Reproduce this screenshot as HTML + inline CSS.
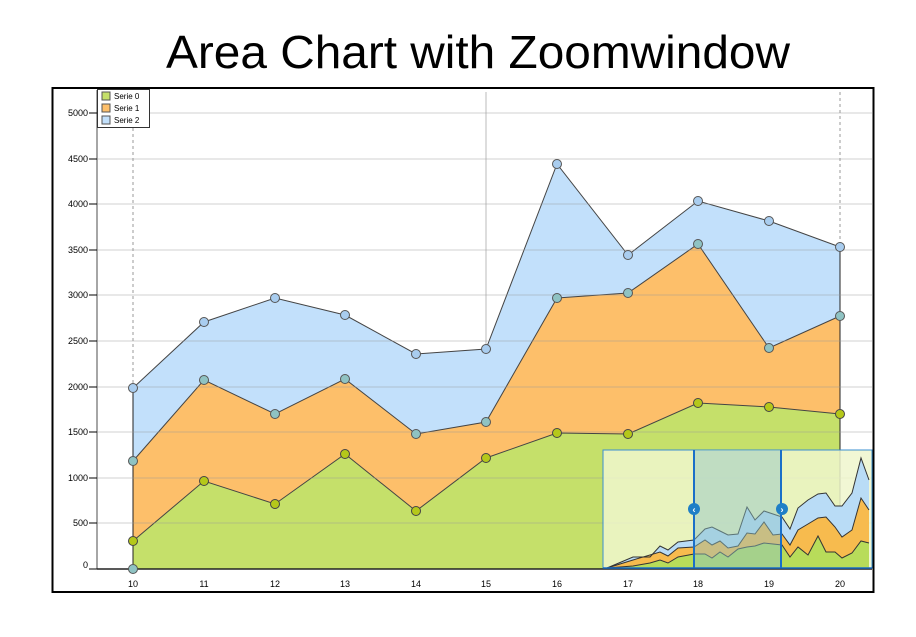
<!DOCTYPE html>
<html><head><meta charset="utf-8"><style>
html,body{margin:0;padding:0;background:#fff;width:916px;height:637px;overflow:hidden}
svg{display:block;font-family:"Liberation Sans",sans-serif}
</style></head><body>
<svg width="916" height="637" viewBox="0 0 916 637" xmlns="http://www.w3.org/2000/svg">
<text x="478" y="68" font-size="46" text-anchor="middle" textLength="624" lengthAdjust="spacingAndGlyphs" fill="#000">Area Chart with Zoomwindow</text>
<!-- frame -->
<rect x="52.5" y="88" width="821" height="504" fill="#fff" stroke="#000" stroke-width="2"/>
<!-- vertical grid -->
<line x1="133" y1="92" x2="133" y2="569" stroke="#999" stroke-dasharray="3,3"/>
<line x1="486" y1="92" x2="486" y2="569" stroke="#bbb"/>
<line x1="840" y1="92" x2="840" y2="569" stroke="#999" stroke-dasharray="3,3"/>
<!-- areas -->
<polygon fill="#c2e0fb" points="133,569 133,388 204,322 275,298 345,315 416,354 486,349 557,164 628,255 698,201 769,221 840,247 840,569"/>
<polygon fill="#fdbf6a" points="133,569 133,461 204,380 275,414 345,379 416,434 486,422 557,298 628,293 698,244 769,348 840,316 840,569"/>
<polygon fill="#c5e06a" points="133,569 133,541 204,481 275,504 345,454 416,511 486,458 557,433 628,434 698,403 769,407 840,414 840,569"/>
<g fill="none" stroke="#444" stroke-width="1">
<polyline points="133,388 204,322 275,298 345,315 416,354 486,349 557,164 628,255 698,201 769,221 840,247"/>
<polyline points="133,461 204,380 275,414 345,379 416,434 486,422 557,298 628,293 698,244 769,348 840,316"/>
<polyline points="133,541 204,481 275,504 345,454 416,511 486,458 557,433 628,434 698,403 769,407 840,414"/>
<line x1="133" y1="388" x2="133" y2="569" stroke="#222"/>
<line x1="840" y1="247" x2="840" y2="569" stroke="#222"/>
</g>
<!-- horizontal grid -->
<g stroke="#999" stroke-opacity="0.45">
<line x1="97" y1="113" x2="872" y2="113"/><line x1="97" y1="159" x2="872" y2="159"/>
<line x1="97" y1="204" x2="872" y2="204"/><line x1="97" y1="250" x2="872" y2="250"/>
<line x1="97" y1="295" x2="872" y2="295"/><line x1="97" y1="341" x2="872" y2="341"/>
<line x1="97" y1="387" x2="872" y2="387"/><line x1="97" y1="432" x2="872" y2="432"/>
<line x1="97" y1="478" x2="872" y2="478"/><line x1="97" y1="523" x2="872" y2="523"/>
</g>
<!-- axes -->
<line x1="97" y1="90" x2="97" y2="569" stroke="#888" stroke-width="1.5"/>
<line x1="97" y1="569" x2="872" y2="569" stroke="#222" stroke-width="1.5"/>
<g font-size="9" fill="#000" text-anchor="end">
<text x="88" y="116">5000</text><text x="88" y="162">4500</text><text x="88" y="207">4000</text>
<text x="88" y="253">3500</text><text x="88" y="298">3000</text><text x="88" y="344">2500</text>
<text x="88" y="390">2000</text><text x="88" y="435">1500</text><text x="88" y="481">1000</text>
<text x="88" y="526">500</text><text x="88" y="568">0</text>
</g>
<g stroke="#000"><line x1="89" y1="113" x2="97" y2="113"/><line x1="89" y1="159" x2="97" y2="159"/><line x1="89" y1="204" x2="97" y2="204"/><line x1="89" y1="250" x2="97" y2="250"/><line x1="89" y1="295" x2="97" y2="295"/><line x1="89" y1="341" x2="97" y2="341"/><line x1="89" y1="387" x2="97" y2="387"/><line x1="89" y1="432" x2="97" y2="432"/><line x1="89" y1="478" x2="97" y2="478"/><line x1="89" y1="523" x2="97" y2="523"/><line x1="89" y1="569" x2="97" y2="569"/></g>
<g font-size="9" fill="#000" text-anchor="middle">
<text x="133" y="587">10</text><text x="204" y="587">11</text><text x="275" y="587">12</text><text x="345" y="587">13</text><text x="416" y="587">14</text><text x="486" y="587">15</text><text x="557" y="587">16</text><text x="628" y="587">17</text><text x="698" y="587">18</text><text x="769" y="587">19</text><text x="840" y="587">20</text>
</g>
<!-- markers -->
<g stroke="#555" stroke-width="1" fill="#a9cdef">
<circle cx="133" cy="388" r="4.5"/><circle cx="204" cy="322" r="4.5"/><circle cx="275" cy="298" r="4.5"/><circle cx="345" cy="315" r="4.5"/><circle cx="416" cy="354" r="4.5"/><circle cx="486" cy="349" r="4.5"/><circle cx="557" cy="164" r="4.5"/><circle cx="628" cy="255" r="4.5"/><circle cx="698" cy="201" r="4.5"/><circle cx="769" cy="221" r="4.5"/><circle cx="840" cy="247" r="4.5"/>
</g>
<g stroke="#555" stroke-width="1" fill="#8fc3c3">
<circle cx="133" cy="461" r="4.5"/><circle cx="204" cy="380" r="4.5"/><circle cx="275" cy="414" r="4.5"/><circle cx="345" cy="379" r="4.5"/><circle cx="416" cy="434" r="4.5"/><circle cx="486" cy="422" r="4.5"/><circle cx="557" cy="298" r="4.5"/><circle cx="628" cy="293" r="4.5"/><circle cx="698" cy="244" r="4.5"/><circle cx="769" cy="348" r="4.5"/><circle cx="840" cy="316" r="4.5"/>
<circle cx="133" cy="569" r="4.5"/>
</g>
<g stroke="#444" stroke-width="1" fill="#b5c81a">
<circle cx="133" cy="541" r="4.5"/><circle cx="204" cy="481" r="4.5"/><circle cx="275" cy="504" r="4.5"/><circle cx="345" cy="454" r="4.5"/><circle cx="416" cy="511" r="4.5"/><circle cx="486" cy="458" r="4.5"/><circle cx="557" cy="433" r="4.5"/><circle cx="628" cy="434" r="4.5"/><circle cx="698" cy="403" r="4.5"/><circle cx="769" cy="407" r="4.5"/><circle cx="840" cy="414" r="4.5"/>
</g>
<!-- legend -->
<rect x="97.5" y="89.5" width="52" height="38" fill="#fff" stroke="#333"/>
<rect x="102" y="92" width="8" height="8" fill="#c5e06a" stroke="#555"/>
<rect x="102" y="104" width="8" height="8" fill="#fdbf6a" stroke="#555"/>
<rect x="102" y="116" width="8" height="8" fill="#c2e0fb" stroke="#555"/>
<g font-size="8" fill="#000"><text x="114" y="99">Serie 0</text><text x="114" y="111">Serie 1</text><text x="114" y="123">Serie 2</text></g>
<!-- zoom window -->
<rect x="603" y="450" width="269" height="118" fill="#eef6cc" fill-opacity="0.85" stroke="#3a8fd0"/>
<polygon fill="#b9dcf6" points="607,568 633,557 650,557 660,546 668,550 678,542 694,540 705,529 712,527 720,531 728,535 738,534 747,507 755,520 764,511 773,514 782,517 790,529 798,508 808,500 818,494 826,493 835,506 842,506 852,493 861,458 869,480 869,568"/>
<polygon fill="#f7bb4e" points="607,568 633,560 660,552 668,556 678,548 694,547 705,540 712,545 720,541 728,548 738,546 747,533 755,534 764,522 773,535 782,534 790,545 798,530 808,524 818,518 826,517 835,527 842,537 852,530 861,498 869,510 869,568"/>
<polygon fill="#b8dc5a" points="607,568 633,566 650,563 660,560 668,563 678,557 694,554 705,554 712,558 720,552 728,557 738,549 747,547 755,546 764,543 773,544 782,545 790,557 798,547 808,555 818,536 826,552 835,552 842,558 852,553 861,541 869,543 869,568"/>
<g fill="none" stroke="#333" stroke-width="1">
<polyline points="607,568 633,557 650,557 660,546 668,550 678,542 694,540 705,529 712,527 720,531 728,535 738,534 747,507 755,520 764,511 773,514 782,517 790,529 798,508 808,500 818,494 826,493 835,506 842,506 852,493 861,458 869,480"/>
<polyline points="607,568 633,560 660,552 668,556 678,548 694,547 705,540 712,545 720,541 728,548 738,546 747,533 755,534 764,522 773,535 782,534 790,545 798,530 808,524 818,518 826,517 835,527 842,537 852,530 861,498 869,510"/>
<polyline points="607,568 633,566 650,563 660,560 668,563 678,557 694,554 705,554 712,558 720,552 728,557 738,549 747,547 755,546 764,543 773,544 782,545 790,557 798,547 808,555 818,536 826,552 835,552 842,558 852,553 861,541 869,543"/>
</g>
<rect x="694" y="450" width="87" height="118" fill="#8fc3c8" fill-opacity="0.45"/>
<line x1="694" y1="450" x2="694" y2="568" stroke="#1a6fc8" stroke-width="2"/>
<line x1="781" y1="450" x2="781" y2="568" stroke="#1a6fc8" stroke-width="2"/>
<line x1="603" y1="568" x2="872" y2="568" stroke="#1a6fc8" stroke-width="1.5"/>
<circle cx="694" cy="509" r="6" fill="#1f7fc6"/>
<circle cx="782" cy="509" r="6" fill="#1f7fc6"/>
<text x="694" y="512.5" font-size="9" fill="#fff" text-anchor="middle" font-weight="bold">‹</text>
<text x="782" y="512.5" font-size="9" fill="#fff" text-anchor="middle" font-weight="bold">›</text>
</svg>
</body></html>
